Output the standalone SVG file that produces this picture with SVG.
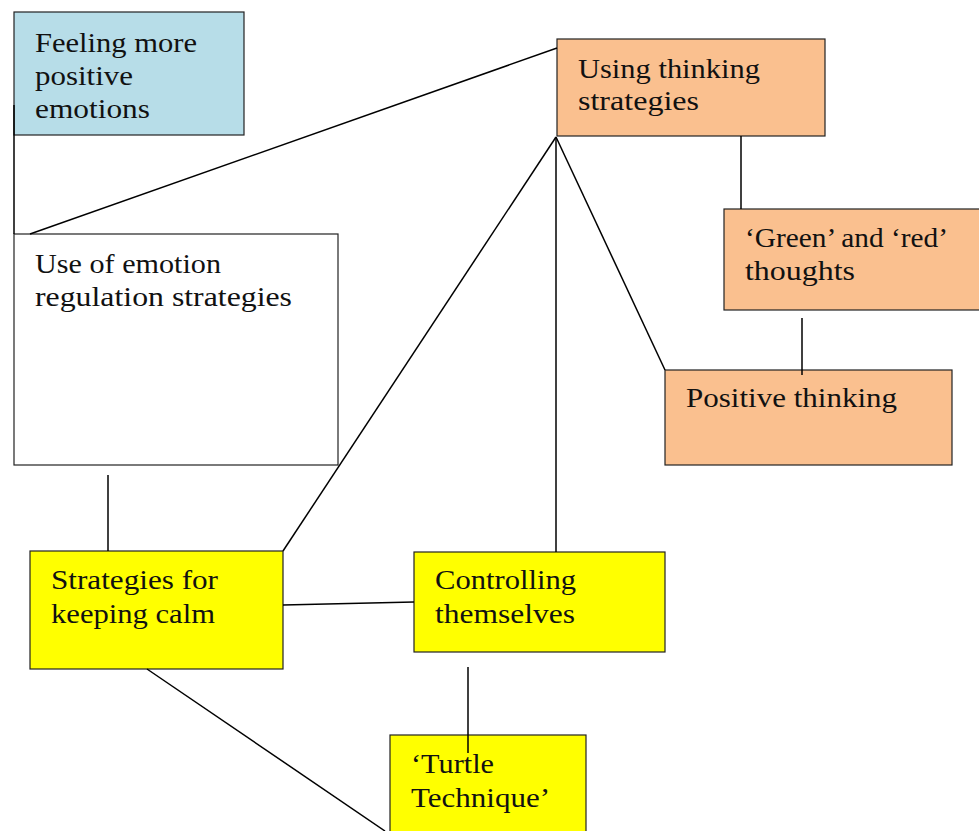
<svg xmlns="http://www.w3.org/2000/svg" width="979" height="831" viewBox="0 0 979 831">
<style>
.box{stroke:#222;stroke-width:1.2}
.blue{fill:#b7dde8}
.white{fill:#ffffff}
.orange{fill:#fac08f}
.yellow{fill:#ffff00}
.t{font-family:"Liberation Serif","DejaVu Serif",serif;font-size:28px;fill:#111}
.c line{stroke:#000;stroke-width:1.5}
</style>
<rect width="979" height="831" fill="#ffffff"/>
<g id="n-feeling">
<rect class="box blue" x="14" y="12" width="230" height="123"/>
<text class="t" x="35" y="52" textLength="162" lengthAdjust="spacingAndGlyphs">Feeling more</text>
<text class="t" x="35" y="85" textLength="98" lengthAdjust="spacingAndGlyphs">positive</text>
<text class="t" x="35" y="118" textLength="115" lengthAdjust="spacingAndGlyphs">emotions</text>
</g>
<g id="n-use">
<rect class="box white" x="14" y="234" width="324" height="231"/>
<text class="t" x="35" y="273" textLength="186" lengthAdjust="spacingAndGlyphs">Use of emotion</text>
<text class="t" x="35" y="306" textLength="257" lengthAdjust="spacingAndGlyphs">regulation strategies</text>
</g>
<g id="n-thinking">
<rect class="box orange" x="557" y="39" width="268" height="97"/>
<text class="t" x="578" y="78" textLength="182" lengthAdjust="spacingAndGlyphs">Using thinking</text>
<text class="t" x="578" y="110" textLength="121" lengthAdjust="spacingAndGlyphs">strategies</text>
</g>
<g id="n-green">
<rect class="box orange" x="724" y="209" width="260" height="101"/>
<text class="t" x="745" y="247" textLength="203" lengthAdjust="spacingAndGlyphs">‘Green’ and ‘red’</text>
<text class="t" x="745" y="280" textLength="110" lengthAdjust="spacingAndGlyphs">thoughts</text>
</g>
<g id="n-positive">
<rect class="box orange" x="665" y="370" width="287" height="95"/>
<text class="t" x="686" y="407" textLength="211" lengthAdjust="spacingAndGlyphs">Positive thinking</text>
</g>
<g id="n-calm">
<rect class="box yellow" x="30" y="551" width="253" height="118"/>
<text class="t" x="51" y="589" textLength="167" lengthAdjust="spacingAndGlyphs">Strategies for</text>
<text class="t" x="51" y="623" textLength="164" lengthAdjust="spacingAndGlyphs">keeping calm</text>
</g>
<g id="n-control">
<rect class="box yellow" x="414" y="552" width="251" height="100"/>
<text class="t" x="435" y="589" textLength="141" lengthAdjust="spacingAndGlyphs">Controlling</text>
<text class="t" x="435" y="623" textLength="140" lengthAdjust="spacingAndGlyphs">themselves</text>
</g>
<g id="n-turtle">
<rect class="box yellow" x="390" y="735" width="196" height="110"/>
<text class="t" x="411" y="773" textLength="83" lengthAdjust="spacingAndGlyphs">‘Turtle</text>
<text class="t" x="411" y="807" textLength="139" lengthAdjust="spacingAndGlyphs">Technique’</text>
</g>
<g id="connectors" class="c">
<line x1="14" y1="105" x2="14" y2="234"/>
<line x1="30" y1="234" x2="557" y2="48"/>
<line x1="741" y1="136" x2="741" y2="209"/>
<line x1="802" y1="318" x2="802" y2="375"/>
<line x1="556" y1="137" x2="283" y2="551"/>
<line x1="556" y1="137" x2="556" y2="552"/>
<line x1="556" y1="137" x2="665" y2="370"/>
<line x1="108" y1="475" x2="108" y2="551"/>
<line x1="283" y1="605" x2="414" y2="602"/>
<line x1="468" y1="667" x2="468" y2="753"/>
<line x1="147" y1="669" x2="385" y2="831"/>
</g>
</svg>
